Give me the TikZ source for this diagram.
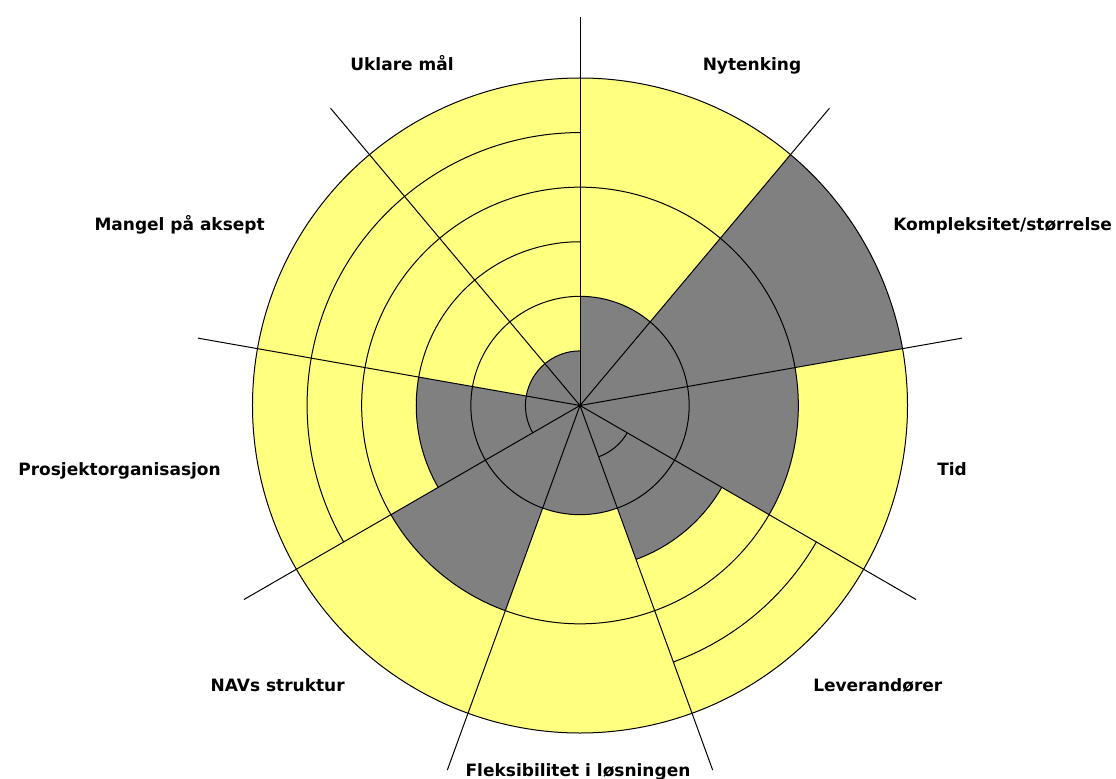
\documentclass[tikz,border=0pt]{standalone}
\usepackage{fontspec}
\setmainfont{DejaVu Sans}
\definecolor{wheelyellow}{RGB}{255,255,128}
\definecolor{wheelgrey}{RGB}{128,128,128}
\begin{document}
\begin{tikzpicture}[x=0.75pt,y=0.75pt,
  ring/.style={line width=0.75pt,black},
  spoke/.style={line width=0.75pt,black},
  lbl/.style={font=\fontsize{12.75}{15}\selectfont\bfseries,inner sep=0pt,text=black}]
\useasboundingbox (-580,-372.5) rectangle (536,405.5);
\def\R{327.5}
\pgfmathsetmacro\st{\R/6}
\coordinate (O) at (0,0);
% sectors: start angle / filled level / rings drawn
\foreach \a/\g/\lv in {50/2/{2,4,6}, 10/6/{2,4,6}, -30/4/{2,4,6},
                       -70/3/{1,2,3,4,5,6}, -110/2/{2,4,6}, -150/4/{2,4,6},
                       170/3/{1,2,3,4,5,6}, 130/1/{1,2,3,4,5,6}, 90/1/{1,2,3,4,5,6}}{
  \pgfmathsetmacro\b{\a+40}
  \pgfmathsetmacro\rg{\g*\st}
  \fill[wheelyellow] (O) -- (\a:\R) arc[start angle=\a,end angle=\b,radius=\R] -- cycle;
  \fill[wheelgrey] (O) -- (\a:\rg) arc[start angle=\a,end angle=\b,radius=\rg] -- cycle;
  \foreach \k in \lv {
    \pgfmathsetmacro\rk{\k*\st}
    \draw[ring] (\a:\rk) arc[start angle=\a,end angle=\b,radius=\rk];
  }
}
% spokes
\foreach \a [count=\i] in {90,50,10,-30,-70,-110,-150,170,130}{
  \coordinate (s\i) at (\a:388);
  \draw[spoke] (O) -- (s\i);
}
\fill[black] (O) circle[radius=2];
% labels
\node[lbl,anchor=base] (nyt) at (172,334.5) {Nytenking};
\node[lbl,anchor=base] (ukl) at (-178,334.5) {Uklare mål};
\node[lbl,anchor=base west] (kom) at (313,174.5) {Kompleksitet/størrelse};
\node[lbl,anchor=base east] (man) at (-315,174.5) {Mangel på aksept};
\node[lbl,anchor=base west] (tid) at (357,-69.5) {Tid};
\node[lbl,anchor=base east] (pro) at (-359,-69.5) {Prosjektorganisasjon};
\node[lbl,anchor=base west] (lev) at (233,-286) {Leverandører};
\node[lbl,anchor=base east] (nav) at (-235,-286) {NAVs struktur};
\node[lbl,anchor=base] (fle) at (-2,-370.5) {Fleksibilitet i løsningen};
\end{tikzpicture}
\end{document}
